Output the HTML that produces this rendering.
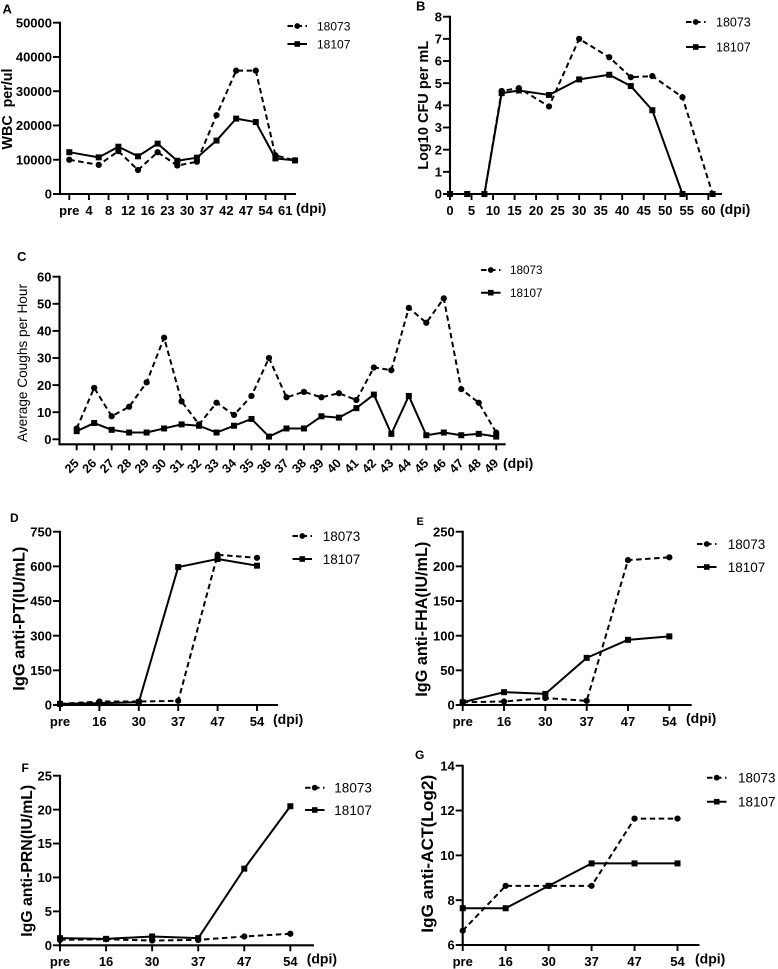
<!DOCTYPE html>
<html lang="en">
<head>
<meta charset="utf-8">
<title>Infection time course panels</title>
<style>
html,body{margin:0;padding:0;background:#fff;}
svg{display:block;font-family:"Liberation Sans",sans-serif;fill:#000;filter:blur(0.3px);}
</style>
</head>
<body>
<svg id="figure" xmlns="http://www.w3.org/2000/svg" width="778" height="969" viewBox="0 0 778 969"></svg>
<script>
var seriesNames = ['18073', '18107'];

var aTickLabels = ['pre','4','8','12','16','23','30','37','42','47','54','61'];
var aYTicks = [0,10000,20000,30000,40000,50000];
var aSampleSlots = [0,1.5,2.5,3.5,4.5,5.5,6.5,7.5,8.5,9.5,10.5,11.5];
var a18073 = [10000,8500,12500,7000,12200,8300,9400,23000,36000,36000,11300,9800];
var a18107 = [12200,10700,13800,11000,14700,9700,10600,15600,22000,21000,10400,9800];

var bTickLabels = ['0','5','10','15','20','25','30','35','40','45','50','55','60'];
var bTickValues = [0,5,10,15,20,25,30,35,40,45,50,55,60];
var bYTicks = [0,1,2,3,4,5,6,7,8];
var bDays = [0,4,8,12,16,23,30,37,42,47,54,61];
var b18073 = [0,0,0,4.65,4.78,3.95,7.0,6.17,5.27,5.32,4.37,0];
var b18107 = [0,0,0,4.55,4.67,4.47,5.17,5.38,4.87,3.78,0,0];

var cTickLabels = ['25','26','27','28','29','30','31','32','33','34','35','36','37','38','39','40','41','42','43','44','45','46','47','48','49'];
var cYTicks = [0,10,20,30,40,50,60];
var c18073 = [4,19,8.5,12,21,37.5,14,5.5,13.5,9,16,30,15.5,17.5,15.5,17,14.5,26.5,25.5,48.5,43,52,18.5,13.5,2.5];
var c18107 = [3,6,3.5,2.5,2.5,4,5.5,5,2.5,5,7.5,1,4,4,8.5,8,11.5,16.5,2,16,1.5,2.5,1.5,2,1];

var serumTickLabels = ['pre','16','30','37','47','54'];

var dYTicks = [0,150,300,450,600,750];
var d18073 = [5,15,15,18,650,637];
var d18107 = [5,8,12,597,632,603];

var eYTicks = [0,50,100,150,200,250];
var e18073 = [4,5,10,6,209,213];
var e18107 = [4,18.5,16,68,94,99];

var fYTicks = [0,5,10,15,20,25];
var f18073 = [0.8,0.9,0.7,0.8,1.3,1.7];
var f18107 = [1.05,0.95,1.3,1.05,11.3,20.5];

var gYTicks = [6,8,10,12,14];
var g18073 = [6.64,8.64,8.64,8.64,11.64,11.64];
var g18107 = [7.64,7.64,8.64,9.64,9.64,9.64];

var NS = 'http://www.w3.org/2000/svg';
var root = document.getElementById('figure');

function make(parent, tag, attrs, text) {
  var node = document.createElementNS(NS, tag);
  for (var k in attrs) { node.setAttribute(k, attrs[k]); }
  if (text !== undefined) { node.textContent = text; }
  parent.appendChild(node);
  return node;
}

function drawMarker(group, kind, x, y, size) {
  var m;
  if (kind === 0) {
    m = make(group, 'circle', {cx: x, cy: y, r: size * 0.52, fill: '#000'});
  } else {
    m = make(group, 'rect', {x: x - size / 2, y: y - size / 2, width: size, height: size, fill: '#000'});
  }
  
  
}

function drawPanel(p) {
  var g = make(root, 'g', {});
  
  

  function sx(v) { return p.x0 + (v - p.xMin) * p.xUnit; }
  function sy(v) { return p.yZero - (v - p.yTicks[0]) / (p.yTicks[p.yTicks.length - 1] - p.yTicks[0]) * (p.yZero - p.yTop); }

  var letter = make(g, 'text', {x: p.letterX, y: p.letterY, 'font-size': p.letterSize || 12, 'font-weight': 'bold'}, p.letter);
  
  

  var yAxis = make(g, 'line', {x1: p.axisX, x2: p.axisX, y1: p.yTop - 1, y2: p.axisY + 1, stroke: '#000', 'stroke-width': 2.1});
  
  

  var xAxis = make(g, 'line', {x1: p.axisX - 1, x2: p.axisEnd, y1: p.axisY, y2: p.axisY, stroke: '#000', 'stroke-width': 2.1});
  
  

  p.yTicks.forEach(function (t) {
    var y = sy(t);
    var tick = make(g, 'line', {x1: p.axisX - 7, x2: p.axisX, y1: y, y2: y, stroke: '#000', 'stroke-width': 1.9});
    
    
    var label = make(g, 'text', {x: p.axisX - 8, y: y + 4.7, 'text-anchor': 'end', 'font-size': 13, 'font-weight': 'bold'}, String(t));
    
    
  });

  p.xLabels.forEach(function (t, i) {
    var x = sx(p.xTickValues ? p.xTickValues[i] : i);
    var tick = make(g, 'line', {x1: x, x2: x, y1: p.axisY, y2: p.axisY + 6, stroke: '#000', 'stroke-width': 1.9});
    
    
    var label;
    if (p.rotateLabels) {
      label = make(g, 'text', {x: x + 3, y: p.labelY, 'text-anchor': 'end', 'font-size': 12.5, 'font-weight': 'bold', transform: 'rotate(-45 ' + (x + 3) + ' ' + p.labelY + ')'}, t);
    } else {
      label = make(g, 'text', {x: x, y: p.labelY, 'text-anchor': 'middle', 'font-size': 13, 'font-weight': 'bold'}, t);
    }
    
    
  });

  var unit = make(g, 'text', {x: p.unitX, y: p.unitY, 'font-size': 14, 'font-weight': 'bold'}, '(dpi)');
  
  

  var title = make(g, 'text', {
    x: p.titleX, y: p.titleMid, 'text-anchor': 'middle',
    'font-size': p.titleSize, 'font-weight': p.titleWeight || 'bold',
    textLength: p.titleLen, lengthAdjust: 'spacingAndGlyphs',
    transform: 'rotate(-90 ' + p.titleX + ' ' + p.titleMid + ')'
  }, p.title);
  
  

  [p.s1, p.s2].forEach(function (vals, k) {
    var pts = vals.map(function (v, i) {
      return sx(p.xs ? p.xs[i] : i).toFixed(2) + ',' + sy(v).toFixed(2);
    }).join(' ');
    var attrs = {points: pts, fill: 'none', stroke: '#000', 'stroke-width': 2, 'stroke-linejoin': 'round'};
    if (k === 0) { attrs['stroke-dasharray'] = '5.5 3.5'; }
    var line = make(g, 'polyline', attrs);
    
    
  });
  [p.s1, p.s2].forEach(function (vals, k) {
    vals.forEach(function (v, i) {
      drawMarker(g, k, sx(p.xs ? p.xs[i] : i), sy(v), 6);
    });
  });

  seriesNames.forEach(function (name, k) {
    var ly = k === 0 ? p.leg1 : p.leg2;
    var entry = make(g, 'g', {});
    
    
    var la = {x1: p.legX, x2: p.legX + 19.5, y1: ly, y2: ly, stroke: '#000', 'stroke-width': 2};
    if (k === 0) { la['stroke-dasharray'] = '5.5 3.5'; }
    var swatch = make(entry, 'line', la);
    
    
    drawMarker(entry, k, p.legX + 9.75, ly, 5.6);
    var lt = make(entry, 'text', {x: p.legText, y: ly + p.legSize * 0.36, 'font-size': p.legSize}, name);
    
    
  });
}

drawPanel({letter:'A', letterX:2.5, letterY:13.5, letterSize:13,
  x0:69.3, xMin:0, xUnit:19.63, axisX:60, axisY:194, axisEnd:296, yTop:22.7, yZero:194,
  yTicks:aYTicks, xLabels:aTickLabels, xs:aSampleSlots, s1:a18073, s2:a18107,
  labelY:215, unitX:296, unitY:213,
  title:'WBC\u00a0\u00a0per/ul', titleX:12, titleMid:109, titleSize:14.5, titleLen:81,
  legX:287.5, leg1:26, leg2:44, legText:317, legSize:12});

drawPanel({letter:'B', letterX:416, letterY:10.5, letterSize:13,
  x0:450, xMin:0, xUnit:4.305, axisX:450, axisY:194, axisEnd:722, yTop:16.7, yZero:194,
  yTicks:bYTicks, xLabels:bTickLabels, xTickValues:bTickValues, xs:bDays, s1:b18073, s2:b18107,
  labelY:215, unitX:720, unitY:214,
  title:'Log10 CFU per mL', titleX:428, titleMid:105.3, titleSize:14.5, titleLen:129,
  legX:686, leg1:22, leg2:47, legText:716, legSize:12.5});

drawPanel({letter:'C', letterX:17, letterY:261, letterSize:13,
  x0:76.7, xMin:0, xUnit:17.48, axisX:59.5, axisY:444.3, axisEnd:505.7, yTop:276.7, yZero:439.3,
  yTicks:cYTicks, xLabels:cTickLabels, rotateLabels:true, s1:c18073, s2:c18107,
  labelY:464, unitX:503, unitY:468,
  title:'Average Coughs per Hour', titleX:27, titleMid:363, titleSize:13.6, titleLen:158, titleWeight:'normal',
  legX:481, leg1:270, leg2:292.7, legText:510, legSize:11.7});

drawPanel({letter:'D', letterX:10, letterY:522, letterSize:12,
  x0:60, xMin:0, xUnit:39.4, axisX:60, axisY:705, axisEnd:278, yTop:531.7, yZero:705,
  yTicks:dYTicks, xLabels:serumTickLabels, s1:d18073, s2:d18107,
  labelY:726, unitX:273, unitY:724,
  title:'IgG anti-PT(IU/mL)', titleX:24.5, titleMid:618.7, titleSize:16.4, titleLen:144,
  legX:292.5, leg1:536, leg2:559, legText:322.7, legSize:13.5});

drawPanel({letter:'E', letterX:416.5, letterY:525, letterSize:11,
  x0:462.7, xMin:0, xUnit:41.33, axisX:462.7, axisY:705, axisEnd:691.7, yTop:531.7, yZero:705,
  yTicks:eYTicks, xLabels:serumTickLabels, s1:e18073, s2:e18107,
  labelY:726, unitX:686, unitY:723,
  title:'IgG anti-FHA(IU/mL)', titleX:427, titleMid:619.2, titleSize:16.2, titleLen:155,
  legX:697, leg1:544, leg2:567, legText:727.7, legSize:13.5});

drawPanel({letter:'F', letterX:21.5, letterY:772, letterSize:12,
  x0:60, xMin:0, xUnit:46.07, axisX:60, axisY:945.3, axisEnd:314, yTop:775.7, yZero:945.3,
  yTicks:fYTicks, xLabels:serumTickLabels, s1:f18073, s2:f18107,
  labelY:966, unitX:306.7, unitY:963.5,
  title:'IgG anti-PRN(IU/mL)', titleX:32, titleMid:860.8, titleSize:15.8, titleLen:152,
  legX:305, leg1:787.7, leg2:810, legText:334.3, legSize:13.5});

drawPanel({letter:'G', letterX:415, letterY:759, letterSize:12,
  x0:462.7, xMin:0, xUnit:42.96, axisX:462.7, axisY:945, axisEnd:699.5, yTop:765.7, yZero:945,
  yTicks:gYTicks, xLabels:serumTickLabels, s1:g18073, s2:g18107,
  labelY:966, unitX:695, unitY:963.5,
  title:'IgG anti-ACT(Log2)', titleX:433, titleMid:853.8, titleSize:17, titleLen:158,
  legX:707, leg1:777.7, leg2:801.7, legText:738, legSize:13.5});
</script>
</body>
</html>
